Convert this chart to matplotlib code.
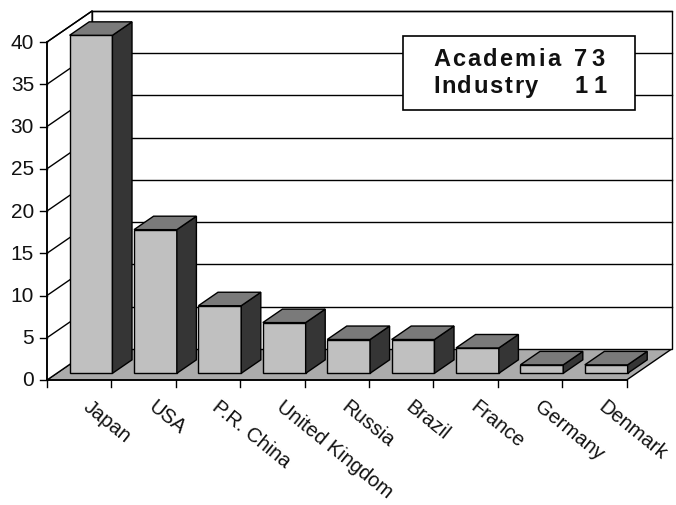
import matplotlib
matplotlib.use('Agg')
import matplotlib.pyplot as plt
import numpy as np

countries = ['Japan', 'USA', 'P.R. China', 'United Kingdom', 'Russia',
             'Brazil', 'France', 'Germany', 'Denmark']
counts = [40, 17, 8, 6, 4, 4, 3, 1, 1]
yticks = [0, 5, 10, 15, 20, 25, 30, 35, 40]
box_labels = ['Academia', 'Industry']
box_values = [73, 11]

# oblique "3d" look: depth z in [0, 1] shifts points right/up
DX = 0.70
DY = 3.67
ZF = 0.216   # bar front plane
ZB = 0.65    # bar back plane
YMAX = 40

front_c = '#c0c0c0'
side_c = '#353535'
top_c = '#7a7a7a'
floor_c = '#ababab'


def proj(x, y, z):
    return x + z * DX, y + z * DY


def poly(ax, pts, fc, lw=1.0, z=1):
    xs = [proj(*p)[0] for p in pts]
    ys = [proj(*p)[1] for p in pts]
    ax.fill(xs, ys, facecolor=fc, edgecolor='black', linewidth=lw, zorder=z)


def px2data(px, py):
    return (px - 47) / 64.4, (381 - py) / 8.45


fig = plt.figure(figsize=(6.76, 5.06), dpi=100)
ax = fig.add_axes([0, 0, 1, 1])
ax.set_xlim(-47 / 64.4, (676 - 47) / 64.4)
ax.set_ylim((381 - 506) / 8.45, 381 / 8.45)
ax.axis('off')
renderer = fig.canvas.get_renderer()


def spaced_text(px, py, s, width, ha='left', **kw):
    # spread a string char by char so it covers `width` pixels
    widths = [0.0]
    for k in range(1, len(s) + 1):
        t = ax.text(0, 0, s[:k], **kw)
        widths.append(t.get_window_extent(renderer).width)
        t.remove()
    track = (width - widths[-1]) / max(len(s) - 1, 1)
    start = px if ha == 'left' else px - width
    for k, ch in enumerate(s):
        x, y = px2data(start + widths[k] + track * k, py)
        ax.text(x, y, ch, ha='left', va='baseline', **kw)


n = len(countries)

# floor, back wall, side wall
poly(ax, [(0, 0, 0), (n, 0, 0), (n, 0, 1), (0, 0, 1)], floor_c)
poly(ax, [(0, 0, 1), (n, 0, 1), (n, YMAX, 1), (0, YMAX, 1)], 'white')
poly(ax, [(0, 0, 0), (0, 0, 1), (0, YMAX, 1), (0, YMAX, 0)], 'white')

for t in yticks[1:]:
    xa, ya = proj(0, t, 1)
    xb, yb = proj(n, t, 1)
    ax.plot([xa, xb], [ya, yb], color='black', lw=1.0, zorder=2)
    ax.plot([0, xa], [t, ya], color='black', lw=1.0, zorder=2)

# legend-like box on back wall
bx0, by0 = px2data(403, 111)
bx1, by1 = px2data(635, 37)
ax.fill([bx0, bx1, bx1, bx0], [by0, by0, by1, by1], facecolor='white',
        edgecolor='black', linewidth=1.2, zorder=3)
font_box = dict(fontsize=17, fontweight='bold', family='Liberation Sans',
                color='#111111', zorder=4)
label_w = [127, 105]
for k in range(len(box_labels)):
    base = 66 + 27 * k
    spaced_text(433, base, box_labels[k], label_w[k], ha='left', **font_box)
    spaced_text(605, base, str(box_values[k]), 31, ha='right', **font_box)

# bars, left to right so the next front face covers the previous side
for i, h in enumerate(counts):
    x0 = i + 0.2
    x1 = i + 0.865
    poly(ax, [(x0, 0, ZF), (x1, 0, ZF), (x1, h, ZF), (x0, h, ZF)], front_c, z=5)
    poly(ax, [(x1, 0, ZF), (x1, 0, ZB), (x1, h, ZB), (x1, h, ZF)], side_c, z=5)
    poly(ax, [(x0, h, ZF), (x1, h, ZF), (x1, h, ZB), (x0, h, ZB)], top_c, z=5)

# front axes
ax.plot([0, 0], [0, YMAX], color='black', lw=1.2, zorder=6)
ax.plot([0, n], [0, 0], color='black', lw=1.2, zorder=6)
for t in yticks:
    ax.plot([-7 / 64.4, 0], [t, t], color='black', lw=1.0, zorder=6)
    ax.text(-13 / 64.4, t, str(t), fontsize=15, family='Liberation Sans',
            ha='right', va='center', color='#111111')
for i in range(n + 1):
    ax.plot([i, i], [0, -7 / 8.45], color='black', lw=1.0, zorder=6)

for i, name in enumerate(countries):
    ax.text(i + 0.70, -1.95, name, fontsize=14.5, family='Liberation Sans',
            rotation=-39, rotation_mode='anchor', ha='left', va='top',
            color='#111111')

fig.savefig('out.png', dpi=100)
